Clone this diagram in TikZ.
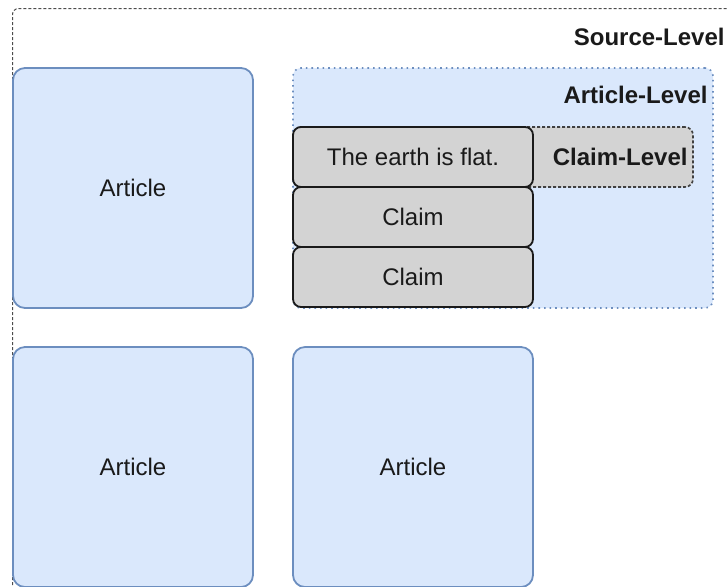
\documentclass[tikz,border=0pt]{standalone}
\usepackage{fontspec}
\setmainfont{Liberation Sans}
\begin{document}
\definecolor{boxblue}{HTML}{DAE8FC}
\definecolor{lineblue}{HTML}{6C8EBF}
\definecolor{claimgrey}{HTML}{D3D3D3}
\definecolor{inkdark}{HTML}{1A1A1A}
\begin{tikzpicture}[x=0.5pt,y=-0.5pt,
  font=\fontsize{12}{14}\selectfont, text=inkdark,
  article/.style={draw=lineblue, fill=boxblue, line width=0.9pt, rounded corners=6pt,
    minimum width=120pt, minimum height=120pt, inner sep=0pt},
  claimbox/.style={draw=inkdark, fill=claimgrey, line width=0.9pt, rounded corners=4pt,
    minimum width=120pt, minimum height=30pt, inner sep=0pt},
  levellabel/.style={anchor=east, inner sep=0pt, font=\fontsize{12}{14}\selectfont\bfseries},
]
\useasboundingbox (0,0) rectangle (727,586);
\clip (0,0) rectangle (727,586);

% outer source container (runs past the page edges)
\node[draw=black!70, dashed, dash pattern=on 1.5pt off 1pt, line width=0.5pt, rounded corners=3pt,
  minimum width=370pt, minimum height=300pt, inner sep=0pt, anchor=north west]
  (source) at (12,8) {};

% article-level container
\node[draw=lineblue, fill=boxblue, dotted, line width=0.8pt, rounded corners=4pt,
  minimum width=210pt, minimum height=120pt, inner sep=0pt] (artlevel) at (503,188) {};

% claim-level container
\node[draw=black!75, fill=claimgrey, dash pattern=on 1.5pt off 1pt, line width=0.8pt, rounded corners=4pt,
  minimum width=200pt, minimum height=30pt, inner sep=0pt] (claimlevel) at (493,157) {};

% claims
\node[claimbox] (c1) at (413,157) {The earth is flat.};
\node[claimbox] (c2) at (413,217) {Claim};
\node[claimbox] (c3) at (413,277) {Claim};

% articles
\node[article] (a1) at (133,188) {Article};
\node[article] (a2) at (133,467) {Article};
\node[article] (a3) at (413,467) {Article};

% level labels
\node[levellabel] (srclabel) at (725,37) {Source-Level};
\node[levellabel] (artlabel) at (708,95) {Article-Level};
\node[levellabel] (clmlabel) at (688,157) {Claim-Level};
\end{tikzpicture}
\end{document}
